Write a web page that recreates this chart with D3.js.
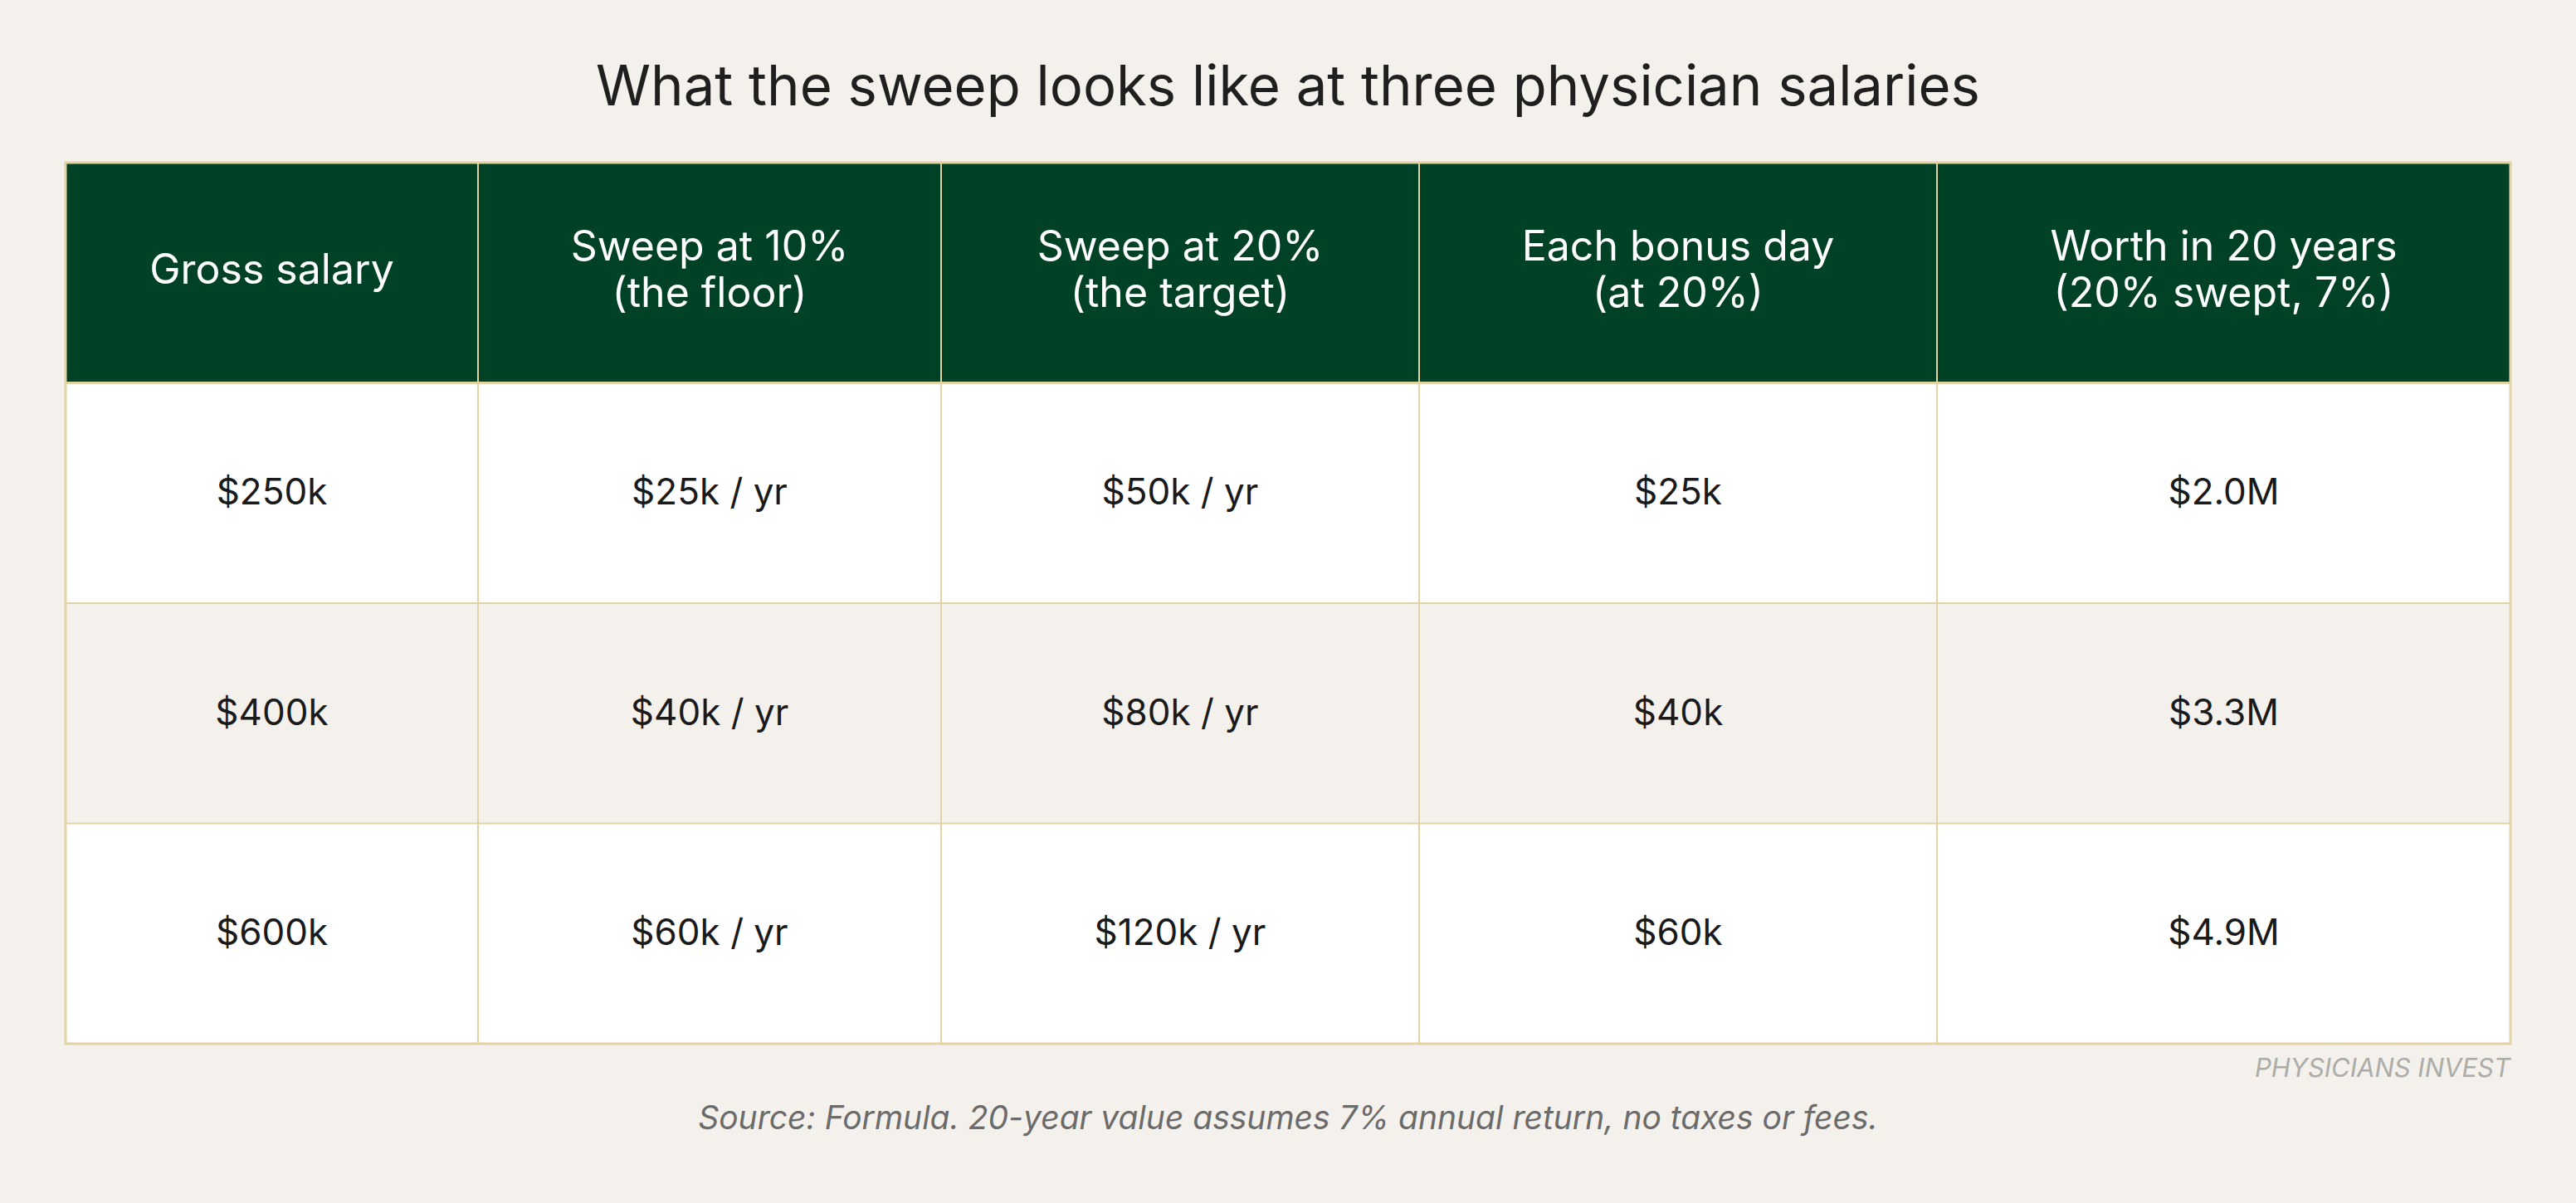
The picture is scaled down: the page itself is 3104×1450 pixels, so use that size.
<!DOCTYPE html>
<html>
<head>
<meta charset="utf-8">
<script src="https://cdn.jsdelivr.net/npm/d3@7"></script>
<style>
  html, body { margin: 0; padding: 0; background: #F4F1EC; }
  svg { display: block; font-family: Inter, "Noto Sans", sans-serif; }
</style>
</head>
<body>
<div id="chart"></div>
<script>
// table content
var title = "What the sweep looks like at three physician salaries";
var headers = [
  ["Gross salary"],
  ["Sweep at 10%", "(the floor)"],
  ["Sweep at 20%", "(the target)"],
  ["Each bonus day", "(at 20%)"],
  ["Worth in 20 years", "(20% swept, 7%)"]
];
var salaries = ["$250k", "$400k", "$600k"];
var sweep10 = ["$25k / yr", "$40k / yr", "$60k / yr"];
var sweep20 = ["$50k / yr", "$80k / yr", "$120k / yr"];
var bonusDay = ["$25k", "$40k", "$60k"];
var worth20 = ["$2.0M", "$3.3M", "$4.9M"];
var source = "Source: Formula. 20-year value assumes 7% annual return, no taxes or fees.";
var brand = "PHYSICIANS INVEST";

var rows = salaries.map(function(s, i) {
  return [s, sweep10[i], sweep20[i], bonusDay[i], worth20[i]];
});

var width = 3104, height = 1450;
var tblLeft = 79, tblRight = 3025, tblTop = 196, tblBottom = 1258;

// relative column widths (layout only)
var colWeights = [497, 558, 576, 624, 691];
var cum = [0];
colWeights.forEach(function(w, i) { cum.push(cum[i] + w); });
var x = d3.scaleLinear().domain([0, cum[cum.length - 1]]).range([tblLeft, tblRight]);
var y = d3.scaleBand().domain(d3.range(rows.length + 1)).range([tblTop, tblBottom]);

var svg = d3.select("#chart").append("svg")
  .attr("width", width)
  .attr("height", height);

svg.append("rect").attr("width", width).attr("height", height).attr("fill", "#F4F1EC");

svg.append("text")
  .attr("x", (tblLeft + tblRight) / 2)
  .attr("y", 127)
  .attr("text-anchor", "middle")
  .attr("font-size", 67)
  .attr("fill", "#1f1f1f")
  .text(title);

// header cells
var head = svg.append("g");
head.selectAll("rect")
  .data(headers)
  .enter().append("rect")
  .attr("x", function(d, i) { return x(cum[i]); })
  .attr("y", y(0))
  .attr("width", function(d, i) { return x(cum[i + 1]) - x(cum[i]); })
  .attr("height", y.bandwidth())
  .attr("fill", "#014227");

head.selectAll("text")
  .data(headers)
  .enter().append("text")
  .attr("x", function(d, i) { return (x(cum[i]) + x(cum[i + 1])) / 2; })
  .attr("y", function(d) { return y(0) + y.bandwidth() / 2 - 5 - (d.length - 1) * 28; })
  .attr("text-anchor", "middle")
  .attr("dominant-baseline", "central")
  .attr("font-size", 50)
  .attr("fill", "#ffffff")
  .each(function(d) {
    var t = d3.select(this);
    d.forEach(function(line, k) {
      t.append("tspan")
        .attr("x", t.attr("x"))
        .attr("dy", k === 0 ? 0 : 56)
        .text(line);
    });
  });

// body rows
var body = svg.selectAll(".row")
  .data(rows)
  .enter().append("g")
  .attr("class", "row")
  .attr("transform", function(d, i) { return "translate(0," + y(i + 1) + ")"; });

body.append("rect")
  .attr("x", tblLeft)
  .attr("width", tblRight - tblLeft)
  .attr("height", y.bandwidth())
  .attr("fill", function(d, i) { return i % 2 === 1 ? "#F4F1EC" : "#ffffff"; });

body.selectAll("text")
  .data(function(d) { return d; })
  .enter().append("text")
  .attr("x", function(d, i) { return (x(cum[i]) + x(cum[i + 1])) / 2; })
  .attr("y", y.bandwidth() / 2 - 2)
  .attr("text-anchor", "middle")
  .attr("dominant-baseline", "central")
  .attr("font-size", 44)
  .attr("fill", "#1a1a1a")
  .text(function(d) { return d; });

// grid lines
var grid = svg.append("g").attr("stroke", "#E2D3A4").attr("fill", "none");
grid.selectAll(".h")
  .data(d3.range(1, rows.length + 1))
  .enter().append("line")
  .attr("x1", tblLeft).attr("x2", tblRight)
  .attr("y1", function(d) { return y(d); })
  .attr("y2", function(d) { return y(d); })
  .attr("stroke-width", function(d) { return d === 1 ? 3 : 2; });
grid.selectAll(".v")
  .data(cum.slice(1, -1))
  .enter().append("line")
  .attr("x1", function(d) { return x(d); })
  .attr("x2", function(d) { return x(d); })
  .attr("y1", tblTop).attr("y2", tblBottom)
  .attr("stroke-width", 2);
grid.append("rect")
  .attr("x", tblLeft).attr("y", tblTop)
  .attr("width", tblRight - tblLeft).attr("height", tblBottom - tblTop)
  .attr("stroke-width", 3);

svg.append("text")
  .attr("x", tblRight)
  .attr("y", 1298)
  .attr("text-anchor", "end")
  .attr("font-size", 31)
  .attr("font-style", "italic")
  .attr("fill", "#acaca8")
  .text(brand);

svg.append("text")
  .attr("x", (tblLeft + tblRight) / 2)
  .attr("y", 1361)
  .attr("text-anchor", "middle")
  .attr("font-size", 39)
  .attr("font-style", "italic")
  .attr("fill", "#6b6b6b")
  .text(source);
</script>
</body>
</html>
